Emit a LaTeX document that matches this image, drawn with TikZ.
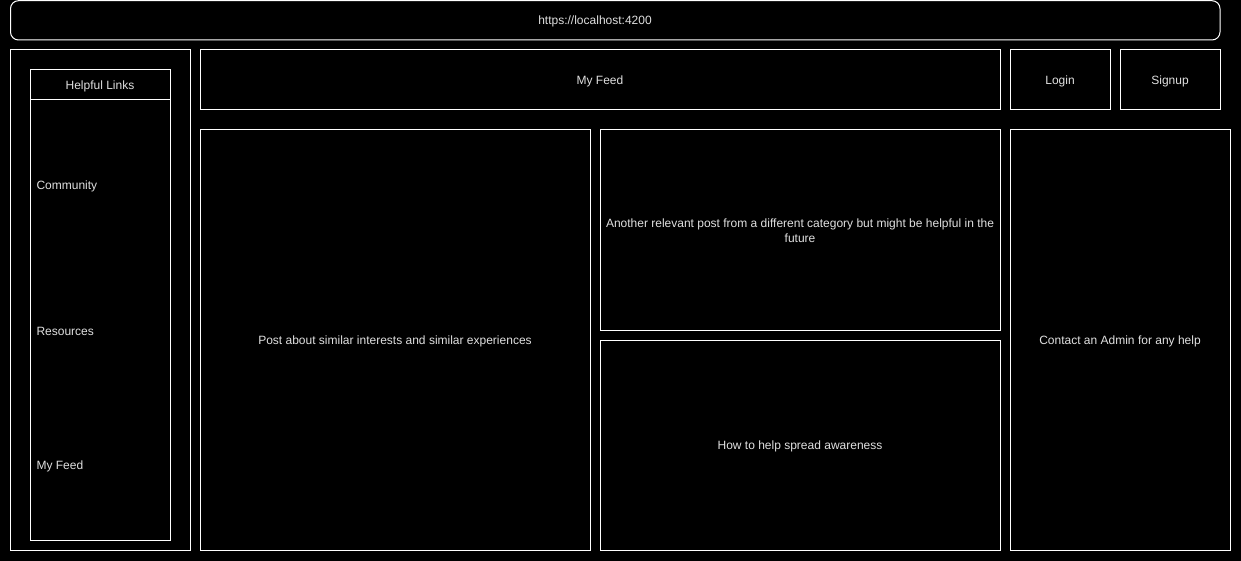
\documentclass[tikz,border=0pt]{standalone}
\usepackage{fontspec}
\setmainfont{Liberation Sans}
\begin{document}
\begin{tikzpicture}[x=1pt,y=-1pt,
  box/.style={draw=white,line width=1pt,fill=black},
  lbl/.style={text=white!88!black,font=\fontsize{12}{15}\selectfont,align=center},
  llbl/.style={text=white!88!black,font=\fontsize{12}{15}\selectfont,anchor=west}]
\fill[black] (0,0) rectangle (1241,561);
\useasboundingbox (0,0) rectangle (1241,561);
\draw[box,rounded corners=8pt] (10.5,0.7) rectangle (1220,40);
\node[lbl] (url) at (595,21) {https://localhost:4200};
\draw[box] (10,50) rectangle (190,550);
\draw[box] (30,70) rectangle (170,100);
\node[lbl] (hl) at (100,86) {Helpful Links};
\draw[box] (30,100) rectangle (170,540);
\node[llbl] (comm) at (33,186) {Community};
\node[llbl] (res) at (33,331) {Resources};
\node[llbl] (mf) at (33,466) {My Feed};
\draw[box] (200,50) rectangle (1000,110);
\node[lbl] (feed) at (600,81) {My Feed};
\draw[box] (1010,50) rectangle (1110,110);
\node[lbl] (login) at (1060,81) {Login};
\draw[box] (1120,50) rectangle (1220,110);
\node[lbl] (signup) at (1170,81) {Signup};
\draw[box] (200,130) rectangle (590,550);
\node[lbl] (post) at (395,341) {Post about similar interests and similar experiences};
\draw[box] (600,130) rectangle (1000,330);
\node[lbl] (another) at (800,231) {Another relevant post from a different category but might be helpful in the\\future};
\draw[box] (600,340) rectangle (1000,550);
\node[lbl] (how) at (800,446) {How to help spread awareness};
\draw[box] (1010,130) rectangle (1230,550);
\node[lbl] (contact) at (1120,341) {Contact an Admin for any help};
\end{tikzpicture}
\end{document}
